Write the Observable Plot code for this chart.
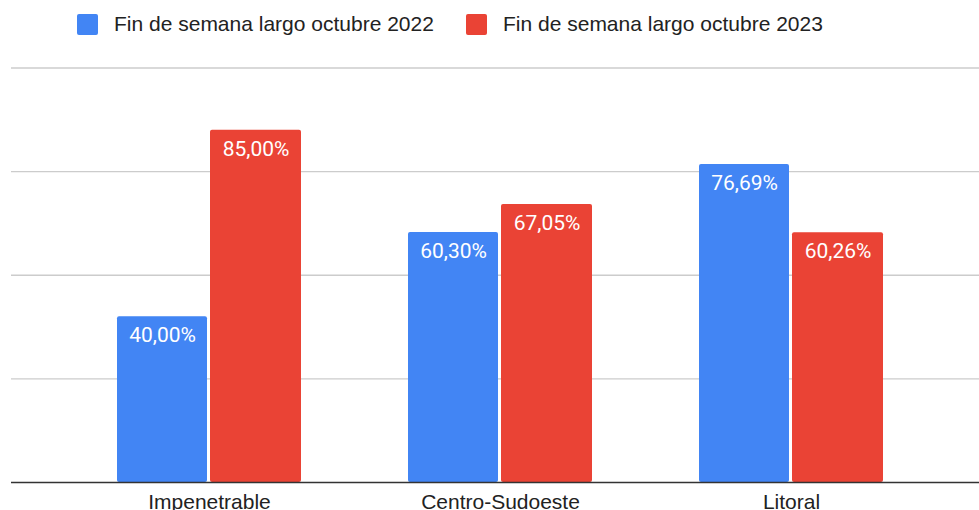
<!DOCTYPE html>
<html>
<head>
<meta charset="utf-8">
<script src="https://cdn.jsdelivr.net/npm/d3@7"></script>
<script src="https://cdn.jsdelivr.net/npm/@observablehq/plot@0.6"></script>
<style>
  html, body { margin: 0; padding: 0; background: #fff; }
  body { width: 979px; height: 510px; overflow: hidden; font-family: Arial, "Liberation Sans", sans-serif; }
  #legend { position: relative; height: 50px; width: 979px; }
  .sw { position: absolute; top: 14px; width: 21px; height: 21px; border-radius: 2px; }
  .lt { position: absolute; top: 11px; font-size: 21px; line-height: 26px; color: #222; white-space: nowrap; }
  #chart svg { display: block; }
</style>
</head>
<body>
<div id="legend"></div>
<div id="chart"></div>
<script>
const categories = ["Impenetrable", "Centro-Sudoeste", "Litoral"];
const seriesNames = ["Fin de semana largo octubre 2022", "Fin de semana largo octubre 2023"];
const values2022 = [40.00, 60.30, 76.69];
const values2023 = [85.00, 67.05, 60.26];
const gridTicks = [25, 50, 75, 100];
const colors = ["#4285F4", "#EA4335"];

// legend
const legend = document.getElementById("legend");
const legendPos = [[77, 114], [466, 503]];
seriesNames.forEach((name, i) => {
  const sw = document.createElement("div");
  sw.className = "sw";
  sw.style.left = legendPos[i][0] + "px";
  sw.style.background = colors[i];
  legend.appendChild(sw);
  const t = document.createElement("div");
  t.className = "lt";
  t.style.left = legendPos[i][1] + "px";
  t.textContent = name;
  legend.appendChild(t);
});

const d2022 = categories.map((c, i) => ({category: c, value: values2022[i]}));
const d2023 = categories.map((c, i) => ({category: c, value: values2023[i]}));
const fmt = v => v.toFixed(2).replace(".", ",") + "%";

const chart = Plot.plot({
  width: 979,
  height: 460,
  marginLeft: 11,
  marginRight: 0,
  marginTop: 17.5,
  marginBottom: 28,
  style: {fontFamily: "Arial, 'Liberation Sans', sans-serif", background: "#fff"},
  x: {domain: categories, paddingInner: 0.368, paddingOuter: 0.347, align: 0.525, label: null},
  y: {domain: [0, 100], axis: null},
  marks: [
    Plot.ruleY(gridTicks, {stroke: "#cccccc", strokeWidth: 1.3}),
    Plot.barY(d2022, {x: "category", y: "value", fill: colors[0], insetRight: 94, rx: 2}),
    Plot.barY(d2023, {x: "category", y: "value", fill: colors[1], insetLeft: 93, rx: 2}),
    Plot.ruleY([0], {stroke: "#333333", strokeWidth: 1.5}),
    Plot.text(d2022, {x: "category", y: "value", text: d => fmt(d.value), dx: -47, dy: 19, fill: "white", fontSize: 21, fontFamily: "Roboto, Arial, sans-serif"}),
    Plot.text(d2023, {x: "category", y: "value", text: d => fmt(d.value), dx: 46.5, dy: 19, fill: "white", fontSize: 21, fontFamily: "Roboto, Arial, sans-serif"}),
    Plot.axisX({tickSize: 0, tickPadding: 12, fontSize: 21, color: "#222"})
  ]
});
document.getElementById("chart").appendChild(chart);
</script>
</body>
</html>
